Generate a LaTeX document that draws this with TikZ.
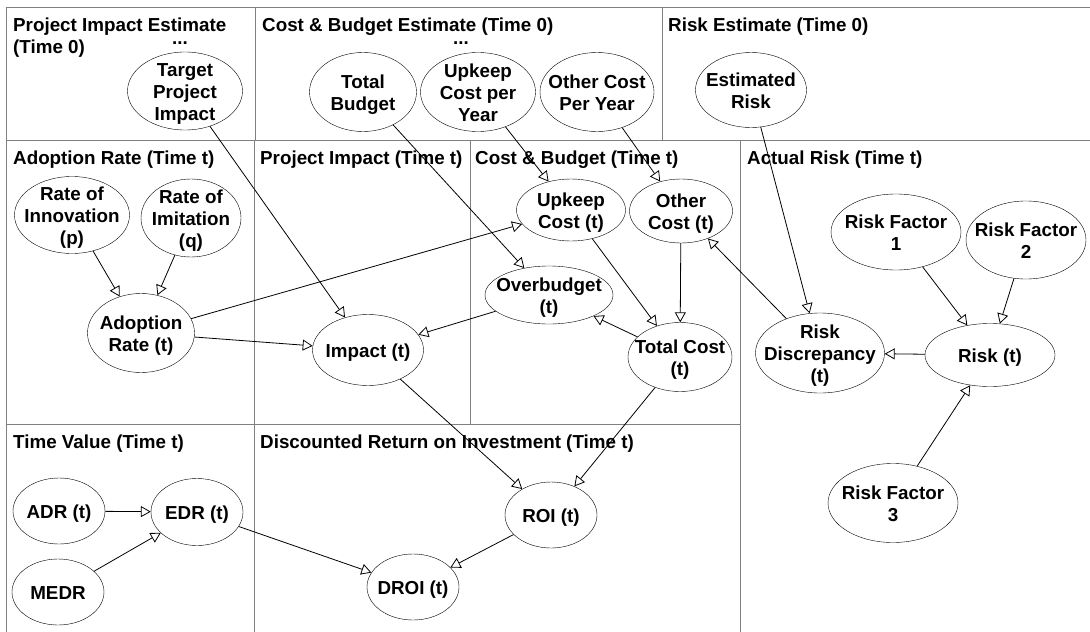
\documentclass[tikz,border=0pt]{standalone}
\usepackage{fontspec}
\setmainfont{Liberation Sans}
\usetikzlibrary{shapes.geometric,arrows.meta}

\newcommand{\vt}[1]{\smash{\makebox[0pt]{\raisebox{-0.4em}{\begin{tabular}{@{}c@{}}#1\end{tabular}}}}}

\tikzset{
  var/.style 2 args={draw, ellipse, inner sep=0pt, minimum width=#1, minimum height=#2},
  title/.style={anchor=base west, inner sep=0pt, align=left},
  panel/.style={draw=gray, line width=0.8pt},
  dep/.style={-{Triangle[open, length=10pt, width=11pt]}, line width=0.8pt}
}

\begin{document}
\begin{tikzpicture}[x=1pt, y=-1pt, font=\fontsize{18.8}{22}\selectfont\bfseries]
  \useasboundingbox (0,0) rectangle (1090,632);
  \clip (0,0) rectangle (1090,632);

  \draw[panel] (6,7) rectangle (255,140);
  \draw[panel] (255,7) rectangle (662,140);
  \draw[panel] (662,7) rectangle (1095,140);
  \draw[panel] (6,140) rectangle (254,424);
  \draw[panel] (254,140) rectangle (470,424);
  \draw[panel] (470,140) rectangle (740,424);
  \draw[panel] (740,140) rectangle (1095,640);
  \draw[panel] (6,424) rectangle (254,640);
  \draw[panel] (254,424) rectangle (740,640);

  \node[title] (t-impact-est)	at (13,53)	{Project Impact Estimate\\(Time 0)};
  \node[title] (t-cost-est)	at (262,31)	{Cost \& Budget Estimate (Time 0)};
  \node[title] (t-risk-est)	at (668,31)	{Risk Estimate (Time 0)};
  \node[title] (t-adoption)	at (13,164)	{Adoption Rate (Time t)};
  \node[title] (t-impact)	at (260,164)	{Project Impact (Time t)};
  \node[title] (t-cost)		at (475,164)	{Cost \& Budget (Time t)};
  \node[title] (t-risk)		at (747,164)	{Actual Risk (Time t)};
  \node[title] (t-time)		at (13,448)	{Time Value (Time t)};
  \node[title] (t-droi)		at (260,448)	{Discounted Return on Investment (Time t)};

  \node[anchor=base, inner sep=0pt] (dots-impact)	at (180,44)	{...};
  \node[anchor=base, inner sep=0pt] (dots-cost)	at (461,44)	{...};

  \node[var={115}{78}] (target-impact)	at (185,91)	{\vt{Target\\Project\\Impact}};
  \node[var={107}{79}] (total-budget)	at (363,92)	{\vt{Total\\Budget}};
  \node[var={115}{79}] (upkeep-year)	at (478,92)	{\vt{Upkeep\\Cost per\\Year}};
  \node[var={114}{79}] (other-year)	at (597,92)	{\vt{Other Cost\\Per Year}};
  \node[var={111}{75}] (est-risk)	at (751,90)	{\vt{Estimated\\Risk}};

  \node[var={115}{77}] (innovation)	at (72,215)	{\vt{Rate of\\Innovation\\(p)}};
  \node[var={100}{78}] (imitation)	at (191,218)	{\vt{Rate of\\Imitation\\(q)}};
  \node[var={107}{79}] (adoption)	at (141,333)	{\vt{Adoption\\Rate (t)}};

  \node[var={111}{71}] (impact)		at (368,350)	{\vt{Impact (t)}};

  \node[var={109}{62}] (upkeep)		at (571,210)	{\vt{Upkeep\\Cost (t)}};
  \node[var={103}{64}] (other)		at (681,211)	{\vt{Other\\Cost (t)}};
  \node[var={128}{58}] (overbudget)	at (549,295)	{\vt{Overbudget\\(t)}};
  \node[var={104}{69}] (total-cost)	at (680,357)	{\vt{Total Cost\\(t)}};

  \node[var={130}{76}] (factor-1)	at (896,232)	{\vt{Risk Factor\\1}};
  \node[var={120}{78}] (factor-2)	at (1026,240)	{\vt{Risk Factor\\2}};
  \node[var={129}{80}] (discrepancy)	at (820,353)	{\vt{Risk\\Discrepancy\\(t)}};
  \node[var={130}{63}] (risk)		at (990,355)	{\vt{Risk (t)}};
  \node[var={130}{79}] (factor-3)	at (893,503)	{\vt{Risk Factor\\3}};

  \node[var={92}{66}] (adr)		at (59,511)	{\vt{ADR (t)}};
  \node[var={92}{67}] (edr)		at (197,512)	{\vt{EDR (t)}};
  \node[var={92}{66}] (medr)		at (58,592)	{\vt{MEDR}};

  \node[var={92}{66}] (roi)		at (551,515)	{\vt{ROI (t)}};
  \node[var={92}{66}] (droi)		at (413,587)	{\vt{DROI (t)}};

  \draw[dep] (target-impact) -- (impact);
  \draw[dep] (total-budget) -- (overbudget);
  \draw[dep] (upkeep-year) -- (upkeep);
  \draw[dep] (other-year) -- (other);
  \draw[dep] (est-risk) -- (discrepancy);

  \draw[dep] (innovation) -- (adoption);
  \draw[dep] (imitation) -- (adoption);
  \draw[dep] (adoption) -- (upkeep);
  \draw[dep] (adoption) -- (impact);
  \draw[dep] (overbudget) -- (impact);

  \draw[dep] (upkeep) -- (total-cost);
  \draw[dep] (other) -- (total-cost);
  \draw[dep] (total-cost) -- (overbudget);
  \draw[dep] (discrepancy) -- (other);

  \draw[dep] (factor-1) -- (risk);
  \draw[dep] (factor-2) -- (risk);
  \draw[dep] (factor-3) -- (risk);
  \draw[dep] (risk) -- (discrepancy);

  \draw[dep] (impact) -- (roi);
  \draw[dep] (total-cost) -- (roi);
  \draw[dep] (roi) -- (droi);
  \draw[dep] (adr) -- (edr);
  \draw[dep] (medr) -- (edr);
  \draw[dep] (edr) -- (droi);
\end{tikzpicture}
\end{document}
